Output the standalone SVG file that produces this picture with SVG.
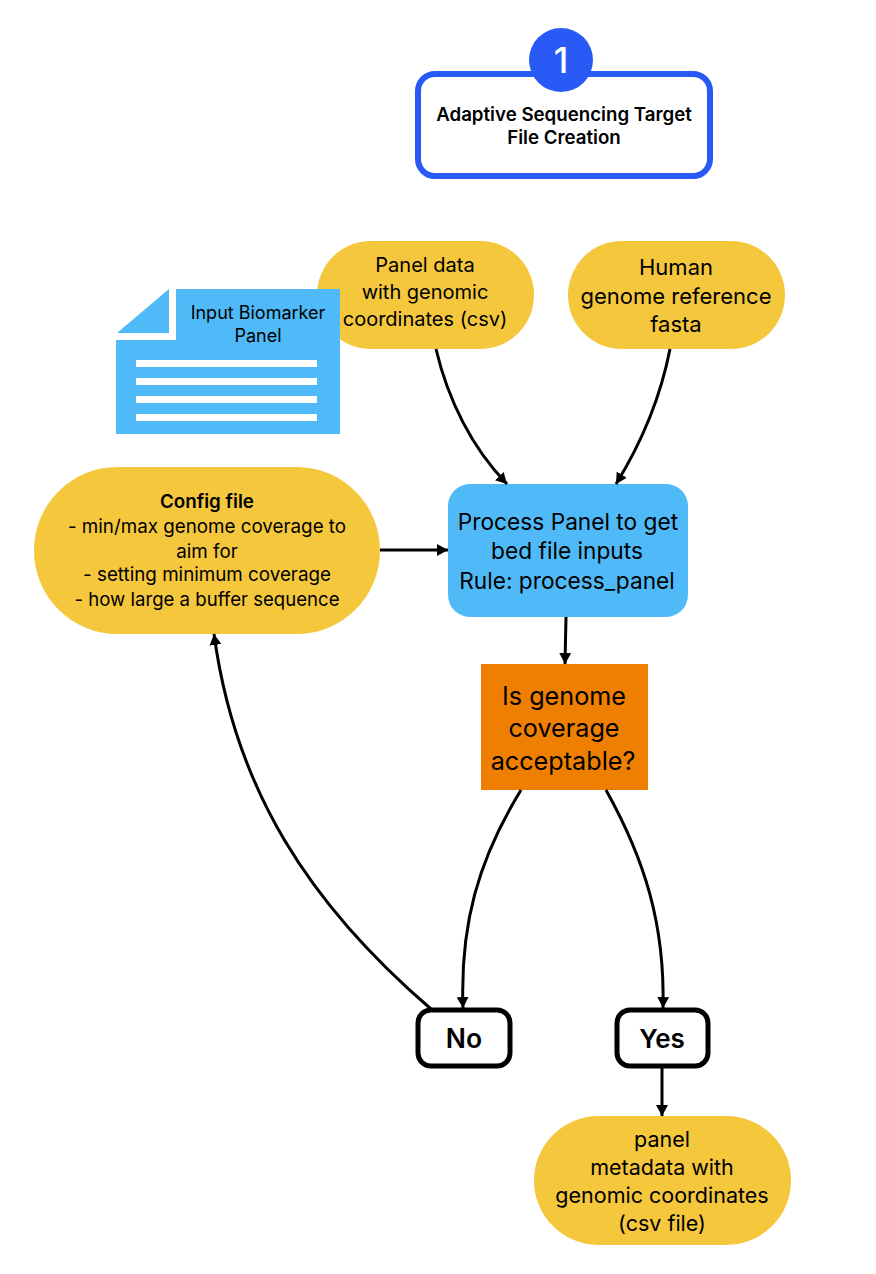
<svg xmlns="http://www.w3.org/2000/svg" width="876" height="1274" viewBox="0 0 876 1274">
<style>
text{font-family:Inter,"Liberation Sans",sans-serif;fill:#000;text-anchor:middle}
.y{fill:#f5c73d}
.b{fill:#4fbaf7}
.w{fill:#fff}
.c{fill:none;stroke:#000;stroke-width:3}
.t{fill:#fff;stroke:#000;stroke-width:5}
</style>
<defs><marker id="a" markerUnits="userSpaceOnUse" markerWidth="12" markerHeight="12" refX="11" refY="6" orient="auto"><path d="M0 0L11 6L0 12Z" fill="#000"/></marker></defs>
<rect width="876" height="1274" fill="#fff"/>
<g id="title"><rect x="418" y="74" width="292" height="102" rx="17" fill="#fff" stroke="#2a5af5" stroke-width="6"/><circle cx="561" cy="60" r="32" fill="#2a5af5"/><text x="561" y="73" font-size="35" font-weight="500" style="fill:#fff">1</text><text x="564" y="121" font-size="18.7" font-weight="600">Adaptive Sequencing Target</text><text x="564" y="144" font-size="18.7" font-weight="600">File Creation</text></g>
<g id="panel-data"><rect class="y" x="317" y="241" width="217" height="108" rx="54"/><text x="425" y="272" font-size="20">Panel data</text><text x="425" y="299" font-size="20">with genomic</text><text x="425" y="326" font-size="20">coordinates (csv)</text></g>
<g id="human-ref"><rect class="y" x="568" y="241" width="217" height="108" rx="54"/><text x="676" y="275" font-size="22">Human</text><text x="676" y="304" font-size="22">genome reference</text><text x="676" y="332" font-size="22">fasta</text></g>
<g id="biomarker"><path class="b" d="M176 289H340V434H116V340H176Z"/><path class="b" d="M117 333L169 289V333Z"/><path class="w" d="M136 360H317V367H136ZM136 378H317V385H136ZM136 396H317V403H136ZM136 414H317V421H136Z"/><text x="258" y="319" font-size="18">Input Biomarker</text><text x="258" y="342" font-size="18">Panel</text></g>
<g id="config"><rect class="y" x="34" y="467" width="346" height="167" rx="83.5"/><text x="207" y="508" font-size="18.8" font-weight="600">Config file</text><text x="207" y="533" font-size="18.8">- min/max genome coverage to</text><text x="207" y="558" font-size="18.8">aim for</text><text x="207" y="581" font-size="18.8">- setting minimum coverage</text><text x="207" y="606" font-size="18.8" textLength="265" lengthAdjust="spacingAndGlyphs">- how large a buffer sequence</text></g>
<g id="process"><rect class="b" x="448" y="484" width="240" height="133" rx="22"/><text x="568" y="530" font-size="22.7">Process Panel to get</text><text x="567" y="559" font-size="22.7">bed file inputs</text><text x="567" y="589" font-size="22.7">Rule: process_panel</text></g>
<g id="decision"><rect x="481" y="664" width="167" height="126" fill="#ef7f00"/><text x="564" y="705" font-size="25.2">Is genome</text><text x="564" y="737" font-size="25.2">coverage</text><text x="563" y="770" font-size="25.2">acceptable?</text></g>
<g id="no"><rect class="t" x="418" y="1010" width="92" height="56" rx="13"/><text x="464" y="1048" font-size="26.5" font-weight="600">No</text></g>
<g id="yes"><rect class="t" x="617" y="1010" width="91" height="56" rx="13"/><text x="662" y="1048" font-size="26" font-weight="600">Yes</text></g>
<g id="output"><rect class="y" x="534" y="1116" width="257" height="129" rx="64.5"/><text x="662" y="1147" font-size="21.5">panel</text><text x="662" y="1175" font-size="21.5">metadata with</text><text x="662" y="1203" font-size="21.5">genomic coordinates</text><text x="662" y="1231" font-size="21.5">(csv file)</text></g>
<g id="connectors">
<path class="c" marker-end="url(#a)" d="M436 349C448 400 472 448 507 484"/>
<path class="c" marker-end="url(#a)" d="M670 349C660 400 642 442 616 484"/>
<path class="c" marker-end="url(#a)" d="M380 550H448"/>
<path class="c" marker-end="url(#a)" d="M566 617L565 664"/>
<path class="c" marker-end="url(#a)" d="M521 790C478 860 460 925 463 1008"/>
<path class="c" marker-end="url(#a)" d="M606 790C645 860 665 925 663 1008"/>
<path class="c" marker-end="url(#a)" d="M431 1009C310 905 235 790 214 634"/>
<path class="c" marker-end="url(#a)" d="M662 1066V1116"/>
</g>
</svg>
